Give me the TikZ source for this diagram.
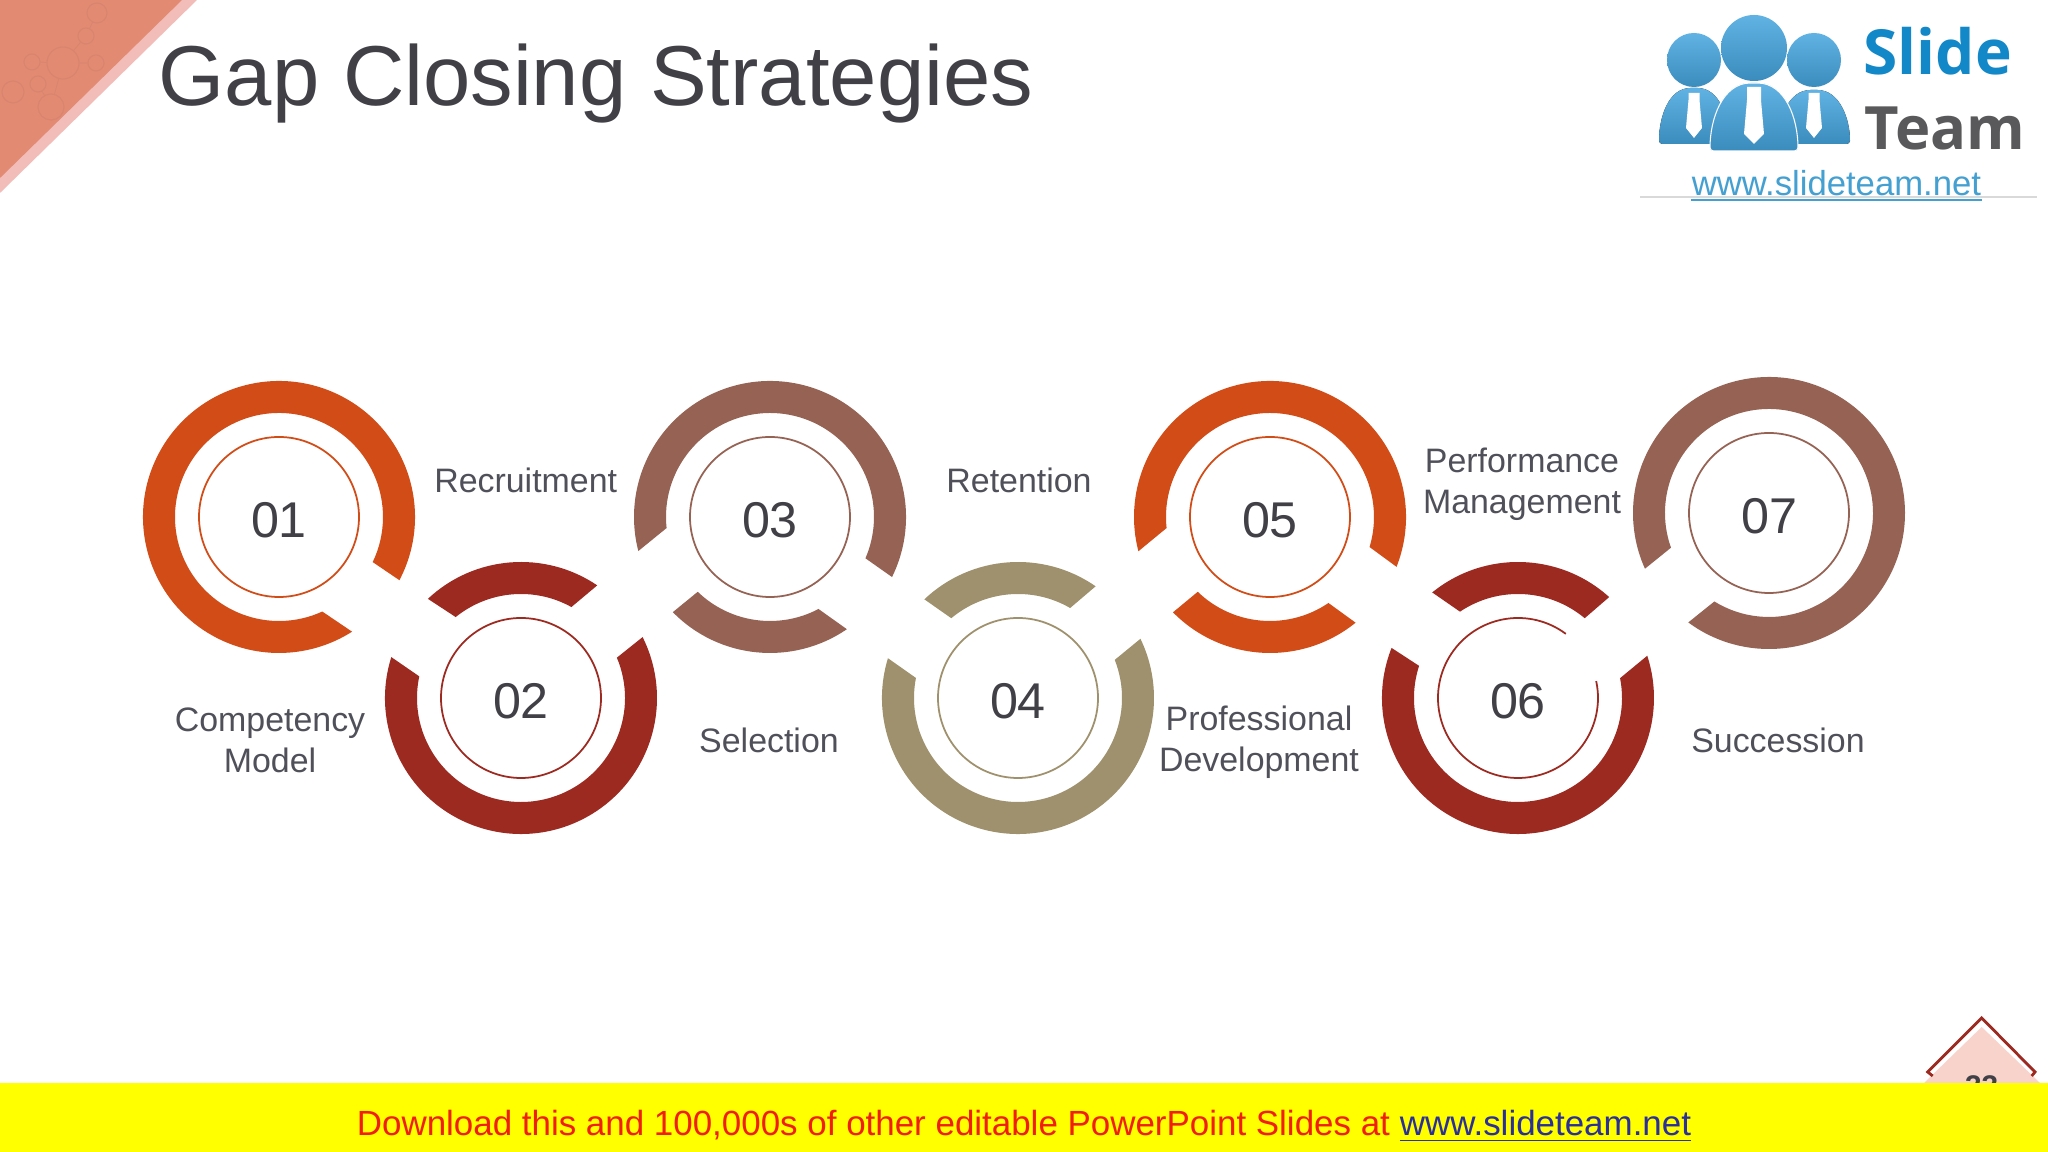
\documentclass[tikz,border=0pt]{standalone}
\usepackage{fontspec}
\setmainfont{Liberation Sans}
\newfontfamily\logofont{Open Sans}
\usetikzlibrary{calc}

\definecolor{ringorange}{HTML}{D14C17}
\definecolor{ringred}{HTML}{9C2A20}
\definecolor{ringbrown}{HTML}{956254}
\definecolor{ringtan}{HTML}{9F916D}
\definecolor{labelgray}{HTML}{50505A}
\definecolor{numgray}{HTML}{404046}
\definecolor{cornersalmon}{HTML}{E28A72}
\definecolor{cornerpink}{HTML}{F2BDB8}
\definecolor{bubbleline}{HTML}{D9846E}
\definecolor{logoblue}{HTML}{45A5DF}
\definecolor{slideblue}{HTML}{1288C8}
\definecolor{teamgray}{HTML}{59595B}
\definecolor{urlblue}{HTML}{45A0D2}
\definecolor{footred}{HTML}{F01E0A}
\definecolor{footblue}{HTML}{2A2F9A}
\definecolor{footyellow}{RGB}{255,255,0}
\definecolor{tabpink}{HTML}{F8D3CB}

\tikzset{
  numcircle/.style={circle,minimum size=1.6cm,inner sep=0pt,line width=0.5pt,text=numgray,text height=11.6pt,text depth=0pt,font=\fontsize{14.3}{17}\selectfont},
  steplabel/.style={text=labelgray,align=center,inner sep=0pt,font=\fontsize{9.65}{11.6}\selectfont},
  bubble/.style={circle,draw=bubbleline,line width=0.3pt,inner sep=0pt},
  headball/.style={circle,inner sep=0pt,top color=logoblue!85!white,bottom color=logoblue!85!black}
}

\newcommand{\ringpiece}[6]{\fill[#1] ($(#2)+(#3:1.36)$) arc (#3:#4:1.36) -- ($(#2)+(#5:1.04)$) arc (#5:#6:1.04) -- cycle;}

\begin{document}
\begin{tikzpicture}
\useasboundingbox (0,0) rectangle (20.48,11.52);
\fill[white] (0,0) rectangle (20.48,11.52);

\fill[cornerpink] (0,11.52) -- (1.97,11.52) -- (0,9.59) -- cycle;
\fill[cornersalmon] (0,11.52) -- (1.82,11.52) -- (0,9.74) -- cycle;

\node[bubble,minimum size=0.20cm] (b1) at (0.97,11.39) {};
\node[bubble,minimum size=0.16cm] (b2) at (0.86,11.16) {};
\node[bubble,minimum size=0.32cm] (b3) at (0.63,10.89) {};
\node[bubble,minimum size=0.16cm] (b4) at (0.96,10.89) {};
\node[bubble,minimum size=0.16cm] (b5) at (0.32,10.90) {};
\node[bubble,minimum size=0.16cm] (b6) at (0.38,10.68) {};
\node[bubble,minimum size=0.22cm] (b7) at (0.13,10.60) {};
\node[bubble,minimum size=0.26cm] (b8) at (0.51,10.45) {};
\draw[bubbleline,line width=0.2pt] (b1) -- (b2) (b2) -- (b3) (b3) -- (b4) (b3) -- (b5) (b3) -- (b8) (b6) -- (b8);

\node[anchor=base west,inner sep=0pt,text=numgray,font=\fontsize{24.2}{29}\selectfont] (title) at (1.58,10.46) {Gap Closing Strategies};

\node[numcircle,draw=ringorange] (c1) at (2.79,6.35) {01};
\node[numcircle,draw=ringred] (c2) at (5.21,4.54) {02};
\node[numcircle,draw=ringbrown] (c3) at (7.70,6.35) {03};
\node[numcircle,draw=ringtan] (c4) at (10.18,4.54) {04};
\node[numcircle,draw=ringorange] (c5) at (12.70,6.35) {05};
\node[numcircle] (c6) at (15.18,4.54) {06};
\node[numcircle,draw=ringbrown] (c7) at (17.69,6.39) {07};
\draw[ringred,line width=0.5pt] ($(c6)+(53.3:0.8)$) arc (53.3:372.2:0.8);

\ringpiece{ringorange}{c1}{-27.7}{302.5}{294.6}{-25.7}
\ringpiece{ringred}{c2}{55.9}{133.2}{128.9}{61}
\ringpiece{ringred}{c2}{162.5}{386.6}{382.8}{168}
\ringpiece{ringbrown}{c3}{-26.2}{194.5}{186.1}{-23.4}
\ringpiece{ringbrown}{c3}{-135.6}{-55.6}{-62.2}{-134}
\ringpiece{ringtan}{c4}{55.2}{133.5}{129.9}{59.9}
\ringpiece{ringtan}{c4}{163}{385.8}{381.5}{168.9}
\ringpiece{ringorange}{c5}{-21.5}{194.6}{186.1}{-16.8}
\ringpiece{ringorange}{c5}{-135.5}{-51}{-55.8}{-134}
\ringpiece{ringred}{c6}{47.9}{129.1}{123.9}{50.1}
\ringpiece{ringred}{c6}{158.4}{378.1}{371}{162}
\ringpiece{ringbrown}{c7}{-126.4}{204.2}{199.5}{-121.7}

\node[steplabel] (recruit) at (5.257,6.715) {Recruitment};
\node[steplabel] (retain) at (10.19,6.715) {Retention};
\node[steplabel] (perform) at (15.22,6.675) {Performance\\Management};
\node[steplabel] (compete) at (2.70,4.115) {Competency\\Model};
\node[steplabel] (select) at (7.69,4.115) {Selection};
\node[steplabel] (develop) at (12.59,4.095) {Professional\\Development};
\node[steplabel] (succeed) at (17.78,4.115) {Succession};

\foreach \cx/\top/\wid/\bot in {16.94/10.64/0.35/10.08,18.14/10.62/0.36/10.08}{
  \fill[top color=logoblue!85!white,bottom color=logoblue!85!black,rounded corners=1pt]
    (\cx-\wid,\bot) to[out=90,in=180] (\cx,\top) to[out=0,in=90] (\cx+\wid,\bot) -- cycle;
}
\fill[top color=logoblue!85!white,bottom color=logoblue!85!black,draw=white,line width=0.3pt,rounded corners=1pt]
  (17.10,10.01) to[out=90,in=180] (17.54,10.69) to[out=0,in=90] (17.98,10.01) -- cycle;
\node[headball,minimum size=0.54cm] (headl) at (16.94,10.92) {};
\node[headball,minimum size=0.54cm] (headr) at (18.14,10.92) {};
\node[headball,minimum size=0.66cm] (headc) at (17.54,11.04) {};
\foreach \cx/\top/\nk/\tip/\wid/\nw in {16.94/10.59/10.52/10.14/0.08/0.055,17.54/10.65/10.52/10.08/0.10/0.07,18.14/10.59/10.52/10.14/0.08/0.055}{
  \fill[white] (\cx-\nw,\top) -- (\cx+\nw,\top) -- (\cx+\nw,\nk) -- (\cx+\wid,\tip+0.10) -- (\cx,\tip) -- (\cx-\wid,\tip+0.10) -- (\cx-\nw,\nk) -- cycle;
}
\node[anchor=base west,inner sep=0pt,text=slideblue,font=\logofont\bfseries\fontsize{17.7}{20}\selectfont] (slide) at (18.63,10.77) {Slide};
\node[anchor=base west,inner sep=0pt,text=teamgray,font=\logofont\bfseries\fontsize{17}{20}\selectfont] (team) at (18.64,10.02) {Team};
\draw[gray!30,line width=0.3pt] (16.40,9.55) -- (20.37,9.55);
\node[anchor=base,inner sep=0pt,text=urlblue,font=\fontsize{9.87}{12}\selectfont] (url) at (18.365,9.56) {www.slideteam.net};
\draw[urlblue,line width=0.7pt] (16.91,9.52) -- (19.82,9.52);

\fill[tabpink] (19.24,0.69) -- (19.817,1.25) -- (20.40,0.69) -- cycle;
\draw[ringred,line width=0.8pt] (19.327,0.76) -- (19.277,0.80) -- (19.817,1.34) -- (20.35,0.80) -- (20.317,0.76);
\node[anchor=base,inner sep=0pt,text=numgray,font=\bfseries\fontsize{8.5}{10}\selectfont] (pagenum) at (19.817,0.55) {33};

\fill[footyellow] (0,0) rectangle (20.48,0.69);
\node[anchor=base,inner sep=0pt,text=footred,font=\fontsize{9.94}{12}\selectfont] (foot) at (10.24,0.165) {Download this and 100,000s of other editable PowerPoint Slides at {\color{footblue}\underline{www.slideteam.net}}};
\end{tikzpicture}
\end{document}
